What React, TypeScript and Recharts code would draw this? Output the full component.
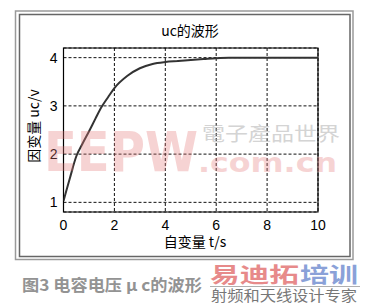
import React from "react";
import { LineChart, Line, XAxis, YAxis, CartesianGrid, ReferenceArea } from "recharts";

const tValues = [0, 0.1, 0.25, 0.5, 0.75, 1, 1.25, 1.5, 1.75, 2, 2.5, 3, 3.5, 4, 4.5, 5, 5.5, 6, 6.5, 7, 8, 9, 10];
const ucValues = [1.03, 1.22, 1.5, 1.95, 2.22, 2.47, 2.73, 2.98, 3.18, 3.37, 3.62, 3.78, 3.87, 3.91, 3.93, 3.95, 3.97, 3.99, 4.0, 4.0, 4.0, 4.0, 4.0];
const xTicks = [0, 2, 4, 6, 8, 10];
const yTicks = [1, 2, 3, 4];
const titleText = "uc的波形";
const xLabel = "自变量 t/s";
const yLabel = "因变量 uc/v";
const captionText = "图3 电容电压 μ c的波形";

const data = tValues.map((t, i) => ({ t, uc: ucValues[i] }));

const FONT = '"Liberation Sans", Arial, "Noto Sans CJK SC", sans-serif';
const CJK = '"Noto Sans CJK SC", "Liberation Sans", sans-serif';

export default function App() {
  return (
    <div style={{ position: "absolute", left: 0, top: 0, width: 365, height: 304, background: "#fff", overflow: "hidden" }}>
      <LineChart
        width={365}
        height={304}
        data={data}
        margin={{ top: 48, right: 47, bottom: 0, left: 0 }}
        style={{ fontFamily: FONT }}
      >
        <CartesianGrid stroke="#111" strokeDasharray="3 2" />
        <XAxis
          dataKey="t"
          type="number"
          domain={[0, 10]}
          ticks={xTicks}
          allowDataOverflow
          height={92}
          tickLine={false}
          axisLine={false}
          tickSize={0}
          tickMargin={8}
          tick={{ fill: "#000", fontSize: 14, fontFamily: FONT }}
        />
        <YAxis
          type="number"
          domain={[0.8, 4.2]}
          ticks={yTicks}
          allowDataOverflow
          width={63.5}
          tickLine={false}
          axisLine={false}
          tickSize={0}
          tickMargin={6}
          tick={{ fill: "#000", fontSize: 14, fontFamily: FONT }}
        />
        <ReferenceArea x1={0} x2={10} y1={0.8} y2={4.2} fill="none" fillOpacity={0} stroke="#000" strokeWidth={1.2} />
        <Line
          type="monotone"
          dataKey="uc"
          stroke="#333"
          strokeWidth={2}
          dot={false}
          isAnimationActive={false}
        />
      </LineChart>
      <svg width={365} height={304} style={{ position: "absolute", left: 0, top: 0, pointerEvents: "none" }}>
        <rect x={15.5} y={11} width={337.5} height={248.5} fill="none" stroke="#9a9a9a" strokeWidth={1.5} />
        <rect x={19.5} y={14.5} width={330.5} height={242} fill="none" stroke="#666" strokeWidth={1.5} />
        <text x={190} y={36} textAnchor="middle" fontSize={14} fontFamily={CJK} fill="#000">{titleText}</text>
        <text x={195} y={247} textAnchor="middle" fontSize={14} fontFamily={CJK} fill="#000">{xLabel}</text>
        <text x={0} y={0} transform="translate(39,126) rotate(-90)" textAnchor="middle" fontSize={14} fontFamily={CJK} fill="#000">{yLabel}</text>
        {/* watermarks */}
        <text x={44} y={171} fontSize={56} fontWeight="bold" fontFamily='"DejaVu Sans", sans-serif' fill="#e57878" opacity={0.32} textLength={154} lengthAdjust="spacingAndGlyphs">EEPW</text>
        <text x={202} y={141} fontSize={19} fontFamily='"Noto Sans CJK TC", serif' fill="#aaa" opacity={0.5} textLength={138} lengthAdjust="spacingAndGlyphs">電子產品世界</text>
        <text x={198} y={172} fontSize={27} fontWeight="bold" fontFamily='"DejaVu Sans", sans-serif' fill="#e57878" opacity={0.32} textLength={139} lengthAdjust="spacingAndGlyphs">.com.cn</text>
        <text x={22} y={291} fontSize={16} fontWeight="bold" fontFamily={CJK} fill="#939393" textLength={180} lengthAdjust="spacingAndGlyphs">{captionText}</text>
        <text x={210} y={282} fontSize={21} fontWeight="bold" fontFamily={CJK} fill="#e06464" opacity={0.75} textLength={89} lengthAdjust="spacingAndGlyphs">易迪拓</text>
        <text x={300} y={282} fontSize={21} fontWeight="bold" fontFamily={CJK} fill="#6482cc" opacity={0.75} textLength={58} lengthAdjust="spacingAndGlyphs">培训</text>
        <line x1={210} y1={286.5} x2={360} y2={286.5} stroke="#b0b0b0" strokeWidth={1} />
        <text x={211} y={301} fontSize={14.5} fontFamily={CJK} fill="#777" textLength={146} lengthAdjust="spacingAndGlyphs">射频和天线设计专家</text>
      </svg>
    </div>
  );
}
